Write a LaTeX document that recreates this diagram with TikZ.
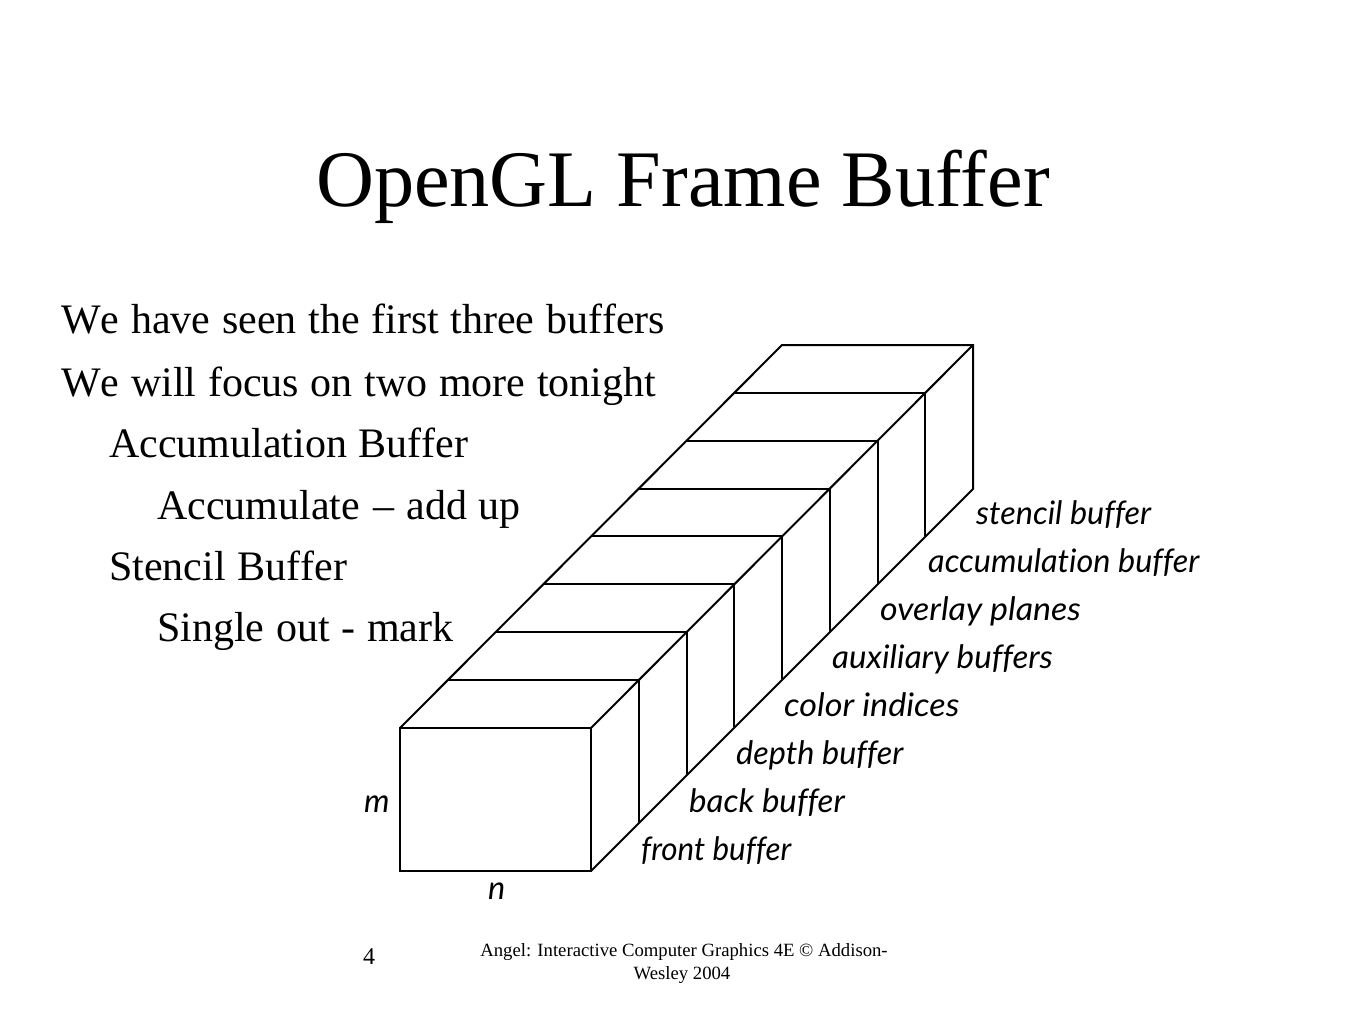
\documentclass[tikz,border=0pt]{standalone}
\usepackage{fontspec}
\setmainfont{Liberation Serif}[Ligatures=NoCommon,Kerning=Off,WordSpace=1.11]
\newfontfamily\titlefont{Liberation Serif}
\newfontfamily\lblfont{Lato}[Ligatures=NoCommon]
\begin{document}
\begin{tikzpicture}[x=1pt,y=-1pt,
  edge/.style={draw=black,line width=2pt,line join=miter},
  body/.style={anchor=base west,inner sep=0pt,font=\fontsize{42}{42}\selectfont},
  lbl/.style={anchor=base west,inner sep=0pt,font=\lblfont\itshape\fontsize{32.4}{32.4}\selectfont}]
\useasboundingbox (0,0) rectangle (1365,1024);
\node[anchor=base,inner sep=0pt,font=\titlefont\fontsize{80.2}{81}\selectfont] (title) at (683,207) {OpenGL Frame Buffer};
\node[body] (l1) at (61,334) {We have seen the first three buffers};
\node[body] (l2) at (61,396) {We will focus on two more tonight};
\node[body] (l3) at (109,457) {Accumulation Buffer};
\node[body] (l4) at (157,519) {Accumulate\hspace{2pt} – add up};
\node[body] (l5) at (109,580) {Stencil Buffer};
\node[body] (l6) at (157,641) {Single out - mark};
\draw[edge] (400,728) rectangle (591,871);
\draw[edge] (400,728) -- (782,345) -- (973,345) -- (973,489) -- (591,871);
\draw[edge] (591,728) -- (973,345);
\foreach \i in {1,...,7}{
  \pgfmathsetmacro{\xa}{400+47.75*\i}
  \pgfmathsetmacro{\xb}{591+47.75*\i}
  \pgfmathsetmacro{\ya}{728-47.9*\i}
  \pgfmathsetmacro{\yb}{871-47.9*\i}
  \draw[edge] (\xa,\ya) -- (\xb,\ya) -- (\xb,\yb);
}
\node[lbl] (a) at (976,524) {stencil buffer};
\node[lbl] (b) at (928,572) {accumulation buffer};
\node[lbl] (c) at (880,620) {\scalebox{1.047}[1]{overlay planes}};
\node[lbl] (d) at (832,668) {\scalebox{1.023}[1]{auxiliary buffers}};
\node[lbl] (e) at (784,716) {\scalebox{1.055}[1]{color indices}};
\node[lbl] (f) at (736,764) {depth buffer};
\node[lbl] (g) at (689,812) {\scalebox{1.02}[1]{back buffer}};
\node[lbl] (h) at (641,860) {\scalebox{0.968}[1]{front buffer}};
\node[lbl] (m) at (364,812) {m};
\node[lbl] (n) at (488,899) {n};
\node[anchor=base,inner sep=0pt,font=\titlefont\fontsize{24}{24}\selectfont] (num) at (369,964) {4};
\node[anchor=base,inner sep=0pt,font=\titlefont\fontsize{18.7}{19.5}\selectfont] (c1) at (684,956) {Angel: Interactive Computer Graphics 4E © Addison-};
\node[anchor=base,inner sep=0pt,font=\titlefont\fontsize{18.7}{19.5}\selectfont] (c2) at (682,979) {Wesley 2004};
\end{tikzpicture}
\end{document}
